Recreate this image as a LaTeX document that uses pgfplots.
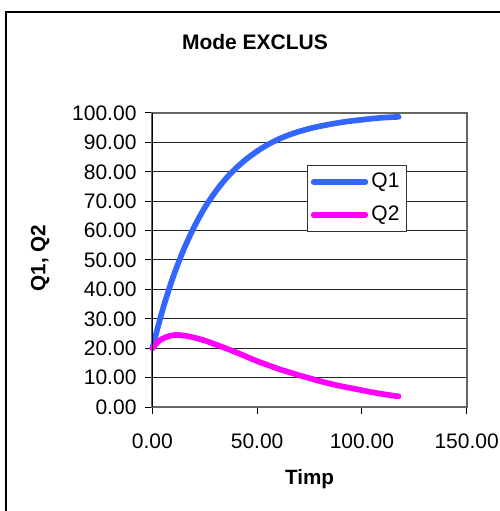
\documentclass[border=0pt]{standalone}
\usepackage{fontspec}
\setmainfont{Liberation Sans}
\usepackage{pgfplots}
\pgfplotsset{compat=1.18}
\definecolor{qblue}{RGB}{51,102,255}
\definecolor{qmag}{RGB}{255,0,255}
\begin{document}
\begin{tikzpicture}
\fontsize{12.4}{14}\selectfont
\draw[black, line width=0.8pt] (3.6pt,-7.2pt) rectangle (330pt,-330pt);
\node[font=\fontsize{12.6}{14}\selectfont\bfseries] at (153pt,-25.2pt) {Mode EXCLUS};
\begin{axis}[
  at={(91.4pt,-244.2pt)}, anchor=south west,
  scale only axis, width=188.6pt, height=176.4pt,
  xmin=0, xmax=150, ymin=0, ymax=100,
  xtick={0,50,100,150}, ytick={0,10,...,100},
  tick pos=left,
  tick align=outside, major tick length=4.2pt,
  tick style={black, line width=0.6pt},
  ymajorgrids, grid style={black!85, line width=0.6pt},
  axis line style={gray!80!black, line width=1.1pt},
  /pgf/number format/.cd, fixed, fixed zerofill, precision=2, assume math mode=true, 1000 sep={},
  /pgfplots/.cd,
  tick label style={font=\fontsize{12.6}{14}\selectfont},
  xticklabel style={yshift=-7.5pt},
  yticklabel style={xshift=-1pt},
  xlabel={\textbf{Timp}}, ylabel={\textbf{Q1, Q2}},
  label style={font=\fontsize{12.4}{14}\selectfont},
  xlabel style={at={(axis description cs:0.5,-0.245)}, anchor=center},
  ylabel style={at={(axis description cs:-0.357,0.507)}, anchor=center},
  legend style={at={(axis description cs:0.492,0.823)}, anchor=north west,
    draw=black!80, line width=0.6pt, fill=white, font=\fontsize{12.6}{14}\selectfont,
    row sep=5pt, inner xsep=2pt, inner ysep=2.5pt},
  legend cell align=left,
  legend image code/.code={\draw[#1, line cap=round] (0pt,0pt) -- (31pt,0pt);},
  clip=false,
]
\addplot[qblue, line width=3.4pt, line cap=round, line join=round, smooth] coordinates {
(0,20.0) (5,33.3) (10,44.4) (15,53.6) (20,61.3) (25,67.8) (30,73.1) (35,77.6)
(40,81.3) (45,84.4) (50,87.0) (55,89.2) (60,91.0) (65,92.5) (70,93.7) (75,94.7)
(80,95.5) (85,96.2) (90,96.8) (95,97.3) (100,97.7) (105,98.1) (110,98.4) (117.5,98.7)
};
\addlegendentry{Q1}
\addplot[qmag, line width=3.4pt, line cap=round, line join=round, smooth] coordinates {
(0,20.0) (3,22.4) (6,23.6) (9,24.3) (12,24.5) (16,24.2) (20,23.6) (25,22.6)
(30,21.3) (35,20.0) (40,18.6) (45,17.1) (50,15.6) (55,14.3) (60,13.0) (65,11.9)
(70,10.8) (75,9.8) (80,8.8) (85,7.9) (90,7.1) (95,6.4) (100,5.7) (105,5.0)
(110,4.4) (117.5,3.6)
};
\addlegendentry{Q2}
\draw[black, line width=1pt] (axis description cs:0,0) -- (axis description cs:0,1);
\end{axis}
\pgfresetboundingbox
\useasboundingbox (0pt,0pt) rectangle (299.4pt,-306.6pt);
\end{tikzpicture}
\end{document}
